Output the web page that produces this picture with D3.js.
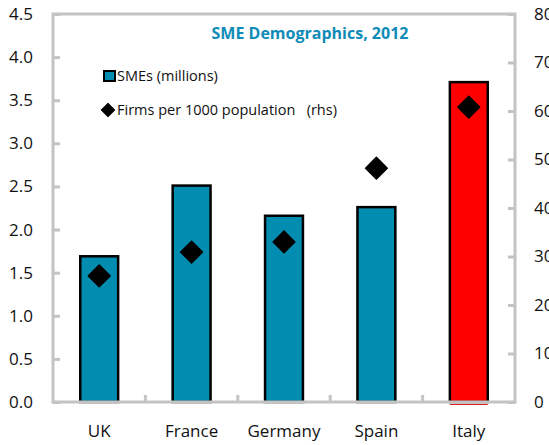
<!DOCTYPE html>
<html>
<head>
<meta charset="utf-8">
<script src="https://cdn.jsdelivr.net/npm/d3@7"></script>
<style>
  body { margin: 0; background: #fff; }
  text { font-family: 'Open Sans', 'Noto Sans', sans-serif; }
</style>
</head>
<body>
<div id="chart"></div>
<script>
const countries = ['UK', 'France', 'Germany', 'Spain', 'Italy']
const smes = [1.69, 2.51, 2.16, 2.26, 3.71]
const firmsPer1000 = [26, 30.9, 33, 48.2, 60.8]
const leftTicks = [0, 0.5, 1, 1.5, 2, 2.5, 3, 3.5, 4, 4.5]
const rightTicks = [0, 10, 20, 30, 40, 50, 60, 70, 80]

const dimensions = {
  width: 549,
  height: 445,
  margin: { top: 14, right: 34, bottom: 43, left: 53 }
}
const BLUE = '#028cb0'
const GRID = '#c3c3c3'

const svg = d3.select('#chart').append('svg')
  .attr('width', dimensions.width)
  .attr('height', dimensions.height)

const x0 = dimensions.margin.left
const x1 = dimensions.width - dimensions.margin.right
const y0 = dimensions.height - dimensions.margin.bottom
const y1 = dimensions.margin.top

const xScale = d3.scaleBand()
  .domain(countries)
  .range([x0, x1])
  .paddingInner(0.59)
  .paddingOuter(0.295)

const yLeft = d3.scaleLinear().domain([0, 4.5]).range([y0, y1])
const yRight = d3.scaleLinear().domain([0, 80]).range([y0, y1])

// bars
svg.append('g')
  .selectAll('rect')
  .data(countries)
  .join('rect')
  .attr('x', d => xScale(d))
  .attr('y', (d, i) => yLeft(smes[i]))
  .attr('width', xScale.bandwidth())
  .attr('height', (d, i) => y0 - yLeft(smes[i]))
  .attr('fill', d => d === 'Italy' ? '#ff0000' : BLUE)
  .attr('stroke', '#000')
  .attr('stroke-width', 2.5)

// small red edge under Italy
svg.append('line')
  .attr('x1', xScale('Italy'))
  .attr('x2', xScale('Italy') + xScale.bandwidth())
  .attr('y1', y0 + 2.5)
  .attr('y2', y0 + 2.5)
  .attr('stroke', '#e02020')
  .attr('stroke-width', 1.2)

// frame
svg.append('rect')
  .attr('x', x0)
  .attr('y', y1)
  .attr('width', x1 - x0)
  .attr('height', y0 - y1)
  .attr('fill', 'none')
  .attr('stroke', GRID)
  .attr('stroke-width', 3)

// left axis (ticks inside)
const leftAxis = svg.append('g')
  .attr('transform', `translate(${x0}, 0)`)
  .call(d3.axisRight(yLeft).tickValues(leftTicks).tickSize(7).tickFormat(''))
leftAxis.select('.domain').remove()
leftAxis.selectAll('line').attr('stroke', GRID).attr('stroke-width', 3)
svg.append('g')
  .selectAll('text')
  .data(leftTicks)
  .join('text')
  .attr('x', 33)
  .attr('y', d => yLeft(d))
  .attr('dy', '0.35em')
  .attr('text-anchor', 'end')
  .attr('font-size', 17)
  .attr('fill', '#111')
  .text(d3.format('.1f'))

// right axis (ticks inside)
const rightAxis = svg.append('g')
  .attr('transform', `translate(${x1}, 0)`)
  .call(d3.axisLeft(yRight).tickValues(rightTicks).tickSize(7).tickFormat(''))
rightAxis.select('.domain').remove()
rightAxis.selectAll('line').attr('stroke', GRID).attr('stroke-width', 3)
svg.append('g')
  .selectAll('text')
  .data(rightTicks)
  .join('text')
  .attr('x', 534)
  .attr('y', d => yRight(d))
  .attr('dy', '0.35em')
  .attr('text-anchor', 'start')
  .attr('font-size', 17)
  .attr('fill', '#111')
  .text(d => d)

// bottom ticks between categories
const step = xScale.step()
const between = countries.slice(1).map(c => xScale(c) - (step - xScale.bandwidth()) / 2)
svg.append('g')
  .selectAll('line')
  .data(between)
  .join('line')
  .attr('x1', d => d)
  .attr('x2', d => d)
  .attr('y1', y0)
  .attr('y2', y0 - 7)
  .attr('stroke', GRID)
  .attr('stroke-width', 3)

svg.append('g')
  .selectAll('text')
  .data(countries)
  .join('text')
  .attr('x', d => xScale(d) + xScale.bandwidth() / 2)
  .attr('y', 431)
  .attr('dy', '0.35em')
  .attr('text-anchor', 'middle')
  .attr('font-size', 17)
  .attr('fill', '#111')
  .text(d => d)

// diamonds
const diamond = d3.symbol().type(d3.symbolSquare).size(235)
svg.append('g')
  .selectAll('path')
  .data(countries)
  .join('path')
  .attr('d', diamond)
  .attr('transform', (d, i) => `translate(${xScale(d) + xScale.bandwidth() / 2}, ${yRight(firmsPer1000[i])}) rotate(45)`)
  .attr('fill', '#000')
  .attr('stroke', '#000')
  .attr('stroke-width', 1.5)
  .attr('stroke-linejoin', 'round')

// title
svg.append('text')
  .attr('x', 310)
  .attr('y', 33)
  .attr('dy', '0.35em')
  .attr('text-anchor', 'middle')
  .attr('font-size', 16)
  .attr('font-weight', 'bold')
  .attr('fill', '#0f8bb8')
  .text('SME Demographics, 2012')

// legend
const legend = svg.append('g')
legend.append('rect')
  .attr('x', 104)
  .attr('y', 71)
  .attr('width', 11)
  .attr('height', 10)
  .attr('fill', BLUE)
  .attr('stroke', '#000')
  .attr('stroke-width', 2)
legend.append('text')
  .attr('x', 117)
  .attr('y', 76)
  .attr('dy', '0.35em')
  .attr('font-size', 14.5)
  .attr('fill', '#111')
  .text('SMEs (millions)')
legend.append('path')
  .attr('d', d3.symbol().type(d3.symbolSquare).size(90))
  .attr('transform', 'translate(108, 110) rotate(45)')
  .attr('fill', '#000')
  .attr('stroke', '#000')
  .attr('stroke-linejoin', 'round')
legend.append('text')
  .attr('x', 117)
  .attr('y', 110)
  .attr('dy', '0.35em')
  .attr('font-size', 14.5)
  .attr('fill', '#111')
  .attr('xml:space', 'preserve')
  .text('Firms per 1000 population   (rhs)')
</script>
</body>
</html>
